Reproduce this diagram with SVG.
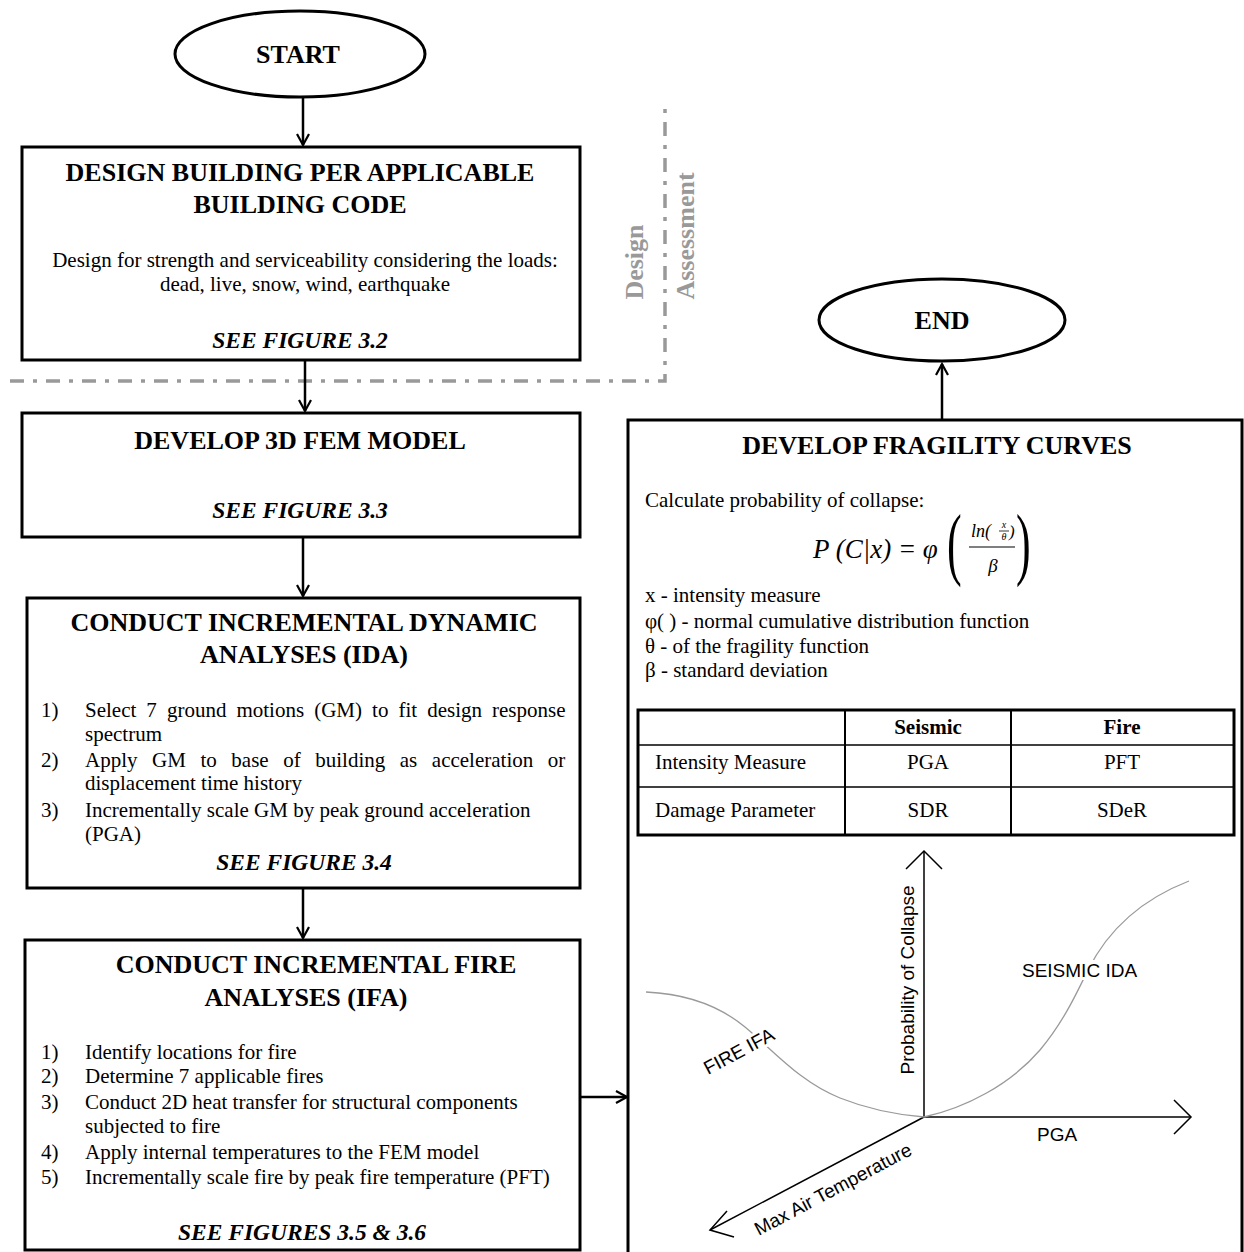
<svg xmlns="http://www.w3.org/2000/svg" width="1244" height="1252" viewBox="0 0 1244 1252">
<style>
.box{fill:#fff;stroke:#000;stroke-width:3}
.t{font-family:"Liberation Serif","Times New Roman",serif;fill:#000}
.h{font-size:26px;font-weight:bold;text-anchor:middle}
.b{font-size:21px}
.c{text-anchor:middle}
.see{font-size:23.5px;font-weight:bold;font-style:italic;text-anchor:middle}
.conn{stroke:#000;stroke-width:2.5;fill:none}
.dd{stroke:#999;stroke-width:3.5;fill:none;stroke-dasharray:14 9 4 9}
.gl{font-family:"Liberation Serif",serif;font-size:26px;font-weight:bold;fill:#999;text-anchor:middle}
.ax{stroke:#000;stroke-width:1.5;fill:none}
.cv{stroke:#9a9a9a;stroke-width:1.3;fill:none}
.a{font-family:"Liberation Sans",Arial,sans-serif;font-size:19px;fill:#000}
.m{font-family:"Liberation Serif",serif;font-style:italic;fill:#000}
</style>
<defs>
<marker id="arr" markerUnits="userSpaceOnUse" markerWidth="16" markerHeight="16" refX="12" refY="7" orient="auto">
<path d="M1,1 L12,7 L1,13" fill="none" stroke="#000" stroke-width="2.2"/>
</marker>
</defs>

<g id="divider">
<path class="dd" d="M10,381 L665,381 L665,100"/>
<text class="gl" transform="translate(643,262) rotate(-90)">Design</text>
<text class="gl" transform="translate(694,236) rotate(-90)">Assessment</text>
</g>

<g id="connectors">
<line class="conn" x1="303" y1="97" x2="303" y2="145" marker-end="url(#arr)"/>
<line class="conn" x1="305" y1="361" x2="305" y2="411" marker-end="url(#arr)"/>
<line class="conn" x1="303" y1="538" x2="303" y2="596" marker-end="url(#arr)"/>
<line class="conn" x1="303" y1="889" x2="303" y2="938" marker-end="url(#arr)"/>
<line class="conn" x1="580" y1="1097" x2="627" y2="1097" marker-end="url(#arr)"/>
<line class="conn" x1="942" y1="419" x2="942" y2="364" marker-end="url(#arr)"/>
</g>

<g id="start">
<ellipse class="box" cx="300" cy="54" rx="125" ry="43"/>
<text class="t h" x="298" y="63">START</text>
</g>

<g id="design">
<rect class="box" x="22" y="147" width="558" height="213"/>
<text class="t h" x="300" y="181">DESIGN BUILDING PER APPLICABLE</text>
<text class="t h" x="300" y="213">BUILDING CODE</text>
<text class="t b c" x="305" y="267">Design for strength and serviceability considering the loads:</text>
<text class="t b c" x="305" y="291">dead, live, snow, wind, earthquake</text>
<text class="t see" x="300" y="348">SEE FIGURE 3.2</text>
</g>

<g id="fem">
<rect class="box" x="22" y="413" width="558" height="124"/>
<text class="t h" x="300" y="449">DEVELOP 3D FEM MODEL</text>
<text class="t see" x="300" y="518">SEE FIGURE 3.3</text>
</g>

<g id="ida">
<rect class="box" x="27" y="598" width="553" height="290"/>
<text class="t h" x="304" y="631">CONDUCT INCREMENTAL DYNAMIC</text>
<text class="t h" x="304" y="663">ANALYSES (IDA)</text>
<text class="t b" x="41" y="717">1)</text>
<text class="t b" x="85" y="717" word-spacing="4.8">Select 7 ground motions (GM) to fit design response</text>
<text class="t b" x="85" y="741">spectrum</text>
<text class="t b" x="41" y="767">2)</text>
<text class="t b" x="85" y="767" word-spacing="9.3">Apply GM to base of building as acceleration or</text>
<text class="t b" x="85" y="790">displacement time history</text>
<text class="t b" x="41" y="817">3)</text>
<text class="t b" x="85" y="817">Incrementally scale GM by peak ground acceleration</text>
<text class="t b" x="85" y="841">(PGA)</text>
<text class="t see" x="304" y="870">SEE FIGURE 3.4</text>
</g>

<g id="ifa">
<rect class="box" x="25" y="940" width="555" height="310"/>
<text class="t h" x="316" y="973">CONDUCT INCREMENTAL FIRE</text>
<text class="t h" x="306" y="1006">ANALYSES (IFA)</text>
<text class="t b" x="41" y="1059">1)</text>
<text class="t b" x="85" y="1059">Identify locations for fire</text>
<text class="t b" x="41" y="1083">2)</text>
<text class="t b" x="85" y="1083">Determine 7 applicable fires</text>
<text class="t b" x="41" y="1109">3)</text>
<text class="t b" x="85" y="1109">Conduct 2D heat transfer for structural components</text>
<text class="t b" x="85" y="1133">subjected to fire</text>
<text class="t b" x="41" y="1159">4)</text>
<text class="t b" x="85" y="1159">Apply internal temperatures to the FEM model</text>
<text class="t b" x="41" y="1184">5)</text>
<text class="t b" x="85" y="1184">Incrementally scale fire by peak fire temperature (PFT)</text>
<text class="t see" x="302" y="1240">SEE FIGURES 3.5 &amp; 3.6</text>
</g>

<g id="end">
<ellipse class="box" cx="942" cy="320" rx="123" ry="41"/>
<text class="t h" x="942" y="329">END</text>
</g>

<g id="fragility">
<rect class="box" x="628" y="420" width="614" height="834"/>
<text class="t h" x="937" y="454">DEVELOP FRAGILITY CURVES</text>
<text class="t b" x="645" y="507">Calculate probability of collapse:</text>
<text class="m" x="813" y="558" font-size="27">P (C|x) = φ</text>
<text class="t" transform="translate(947,570) scale(0.55,1)" font-size="80">(</text>
<text class="t" transform="translate(1016,570) scale(0.55,1)" font-size="80">)</text>
<text class="m" x="971" y="537" font-size="18">ln(</text>
<text class="m" x="1004" y="528" font-size="10" text-anchor="middle">x</text>
<line x1="999" y1="531" x2="1009" y2="531" stroke="#000" stroke-width="0.8"/>
<text class="m" x="1004" y="540" font-size="10" text-anchor="middle">θ</text>
<text class="m" x="1009" y="537" font-size="17">)</text>
<line x1="969" y1="547" x2="1015" y2="547" stroke="#000" stroke-width="1.2"/>
<text class="m" x="993" y="572" font-size="19" text-anchor="middle">β</text>
<text class="t b" x="645" y="602">x - intensity measure</text>
<text class="t b" x="645" y="628">φ( ) - normal cumulative distribution function</text>
<text class="t b" x="645" y="653">θ  - of the fragility function</text>
<text class="t b" x="645" y="677">β - standard deviation</text>

<g id="table">
<rect x="638" y="710" width="596" height="125" fill="none" stroke="#000" stroke-width="3"/>
<line x1="638" y1="745" x2="1234" y2="745" stroke="#000" stroke-width="1.5"/>
<line x1="638" y1="787" x2="1234" y2="787" stroke="#000" stroke-width="1.5"/>
<line x1="845" y1="710" x2="845" y2="835" stroke="#000" stroke-width="2"/>
<line x1="1011" y1="710" x2="1011" y2="835" stroke="#000" stroke-width="2"/>
<text class="t b c" x="928" y="734" font-weight="bold">Seismic</text>
<text class="t b c" x="1122" y="734" font-weight="bold">Fire</text>
<text class="t b" x="655" y="769">Intensity Measure</text>
<text class="t b c" x="928" y="769">PGA</text>
<text class="t b c" x="1122" y="769">PFT</text>
<text class="t b" x="655" y="817">Damage Parameter</text>
<text class="t b c" x="928" y="817">SDR</text>
<text class="t b c" x="1122" y="817">SDeR</text>
</g>

<g id="chart">
<line class="ax" x1="924" y1="1117" x2="924" y2="851"/>
<path class="ax" d="M906,869 L924,851 L942,869"/>
<line class="ax" x1="924" y1="1117" x2="1191" y2="1117"/>
<path class="ax" d="M1174,1100 L1191,1117 L1174,1134"/>
<line class="ax" x1="924" y1="1117" x2="710" y2="1230"/>
<path class="ax" d="M727,1211 L710,1230 L734,1237"/>
<path class="cv" d="M646,992 C690,994 722,1008 745,1027 C775,1052 800,1082 840,1098 C870,1110 900,1115 924,1117"/>
<path class="cv" d="M924,1117 C965,1108 1010,1085 1040,1050 C1065,1020 1078,990 1088,970 C1108,930 1140,900 1189,881"/>
<rect x="1020" y="960" width="119" height="20" fill="#fff"/>
<text class="a" x="1022" y="977">SEISMIC IDA</text>
<text class="a" x="1037" y="1141">PGA</text>
<text class="a" text-anchor="middle" transform="translate(914,980) rotate(-90)">Probability of Collapse</text>
<g transform="translate(742,1057) rotate(-28)">
<rect x="-43" y="-16" width="86" height="19" fill="#fff"/>
<text class="a" text-anchor="middle" x="0" y="0">FIRE IFA</text>
</g>
<text class="a" text-anchor="middle" transform="translate(836,1195) rotate(-28)">Max Air Temperature</text>
</g>
</g>
</svg>
